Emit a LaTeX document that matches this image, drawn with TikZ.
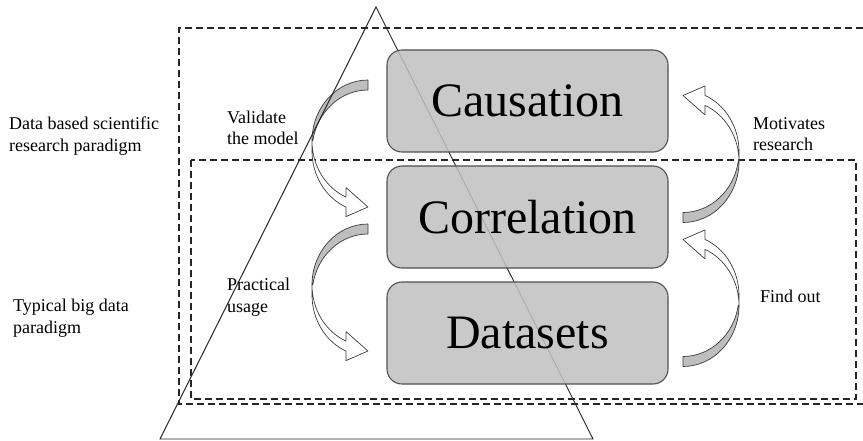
\documentclass[tikz,border=0pt]{standalone}
\usepackage{fontspec}
\setmainfont{Liberation Serif}
\definecolor{boxgray}{RGB}{192,192,192}
\definecolor{boxline}{RGB}{80,80,80}
\definecolor{arrowgray}{RGB}{190,190,190}
\definecolor{arrowline}{RGB}{60,60,60}
\tikzset{
  carrow/.pic={
    \filldraw[fill=arrowgray, draw=arrowline, line width=0.7pt, line join=round]
      (56,10) arc[start angle=270, end angle=189.43, x radius=56, y radius=61]
      -- (0,61) arc[start angle=180, end angle=270, x radius=56, y radius=61] -- cycle;
    \filldraw[fill=white, draw=arrowline, line width=0.7pt, line join=round]
      (0,61) arc[start angle=180, end angle=113.13, x radius=56, y radius=61]
      -- (34,107.59) -- (56,127) -- (34,136.59) -- (34,127.09)
      arc[start angle=113.13, end angle=180, x radius=56, y radius=61] -- cycle;
  }
}
\begin{document}
\begin{tikzpicture}[x=1pt,y=-1pt,
  dbox/.style={draw=boxline, line width=1.1pt, fill=boxgray, fill opacity=0.85, text opacity=1,
    rounded corners=15pt, minimum width=281pt, minimum height=102pt, inner sep=0pt,
    font=\fontsize{48}{55}\selectfont},
  lbl/.style={anchor=base west, align=left, inner sep=0pt, font=\fontsize{18}{21.7}\selectfont},
  frame/.style={draw=black!85, line width=1.4pt, dash pattern=on 7pt off 4pt},
  tri/.style={draw=black!85, line width=0.9pt}
]
\useasboundingbox (0,0) rectangle (863,441);
% dashed frames
\draw[frame] (863,28) -- (179,28) -- (179,404) -- (863,404);
\draw[frame] (191,160) rectangle (856,399);
% curved arrows
\pic at (312,80) {carrow};
\pic at (312,224) {carrow};
\pic[rotate=180] at (739,222.5) {carrow};
\pic[rotate=180] at (739,366.5) {carrow};
% triangle
\draw[tri] (376,7) -- (593,439) -- (160,439) -- cycle;
% boxes
\node[dbox] (cause) at (527.5,101) {Causation};
\node[dbox] (corr) at (527.5,217) {Correlation};
\node[dbox] (data) at (527.5,333) {Datasets};
% labels (base anchor = baseline of last line)
\node[lbl] (dbs) at (9,151.5) {Data based scientific\\research paradigm};
\node[lbl] (tbd) at (13,333) {Typical big data\\paradigm};
\node[lbl] (val) at (227,145) {Validate\\the model};
\node[lbl] (prac) at (227,312) {Practical\\usage};
\node[lbl] (mot) at (753,151) {Motivates\\research};
\node[lbl] (find) at (760,302) {Find out};
\end{tikzpicture}
\end{document}
